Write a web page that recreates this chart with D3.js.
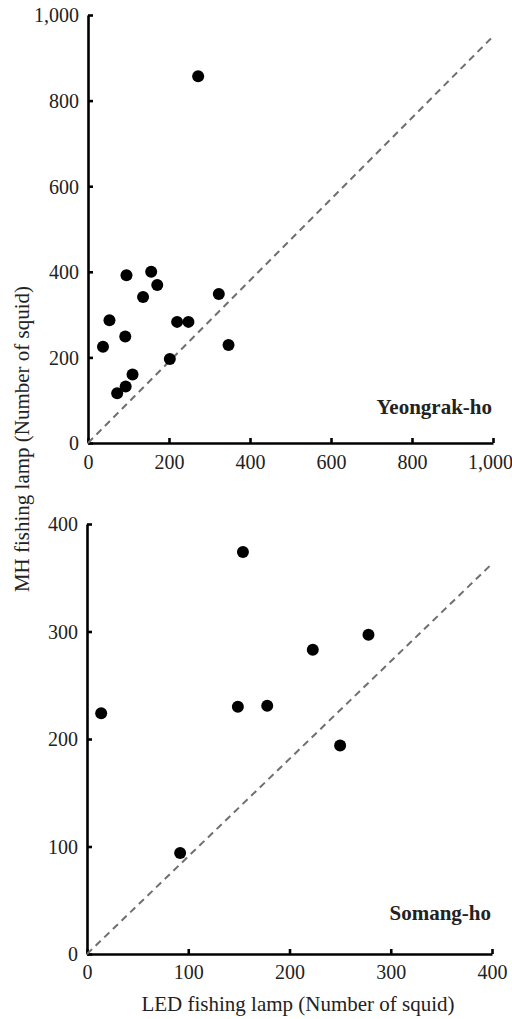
<!DOCTYPE html>
<html><head><meta charset="utf-8">
<script src="https://cdn.jsdelivr.net/npm/d3@7"></script>
<style>
html,body{margin:0;padding:0;background:#fff;}
svg{display:block;}
</style></head>
<body>
<svg id="c" width="512" height="1019"></svg>
<script>
// Yeongrak-ho: LED vs MH catch
const yeongLED = [37, 53, 92, 72, 93, 110, 95, 136, 156, 171, 202, 220, 248, 323, 347, 272];
const yeongMH  = [225, 287, 249, 116, 132, 160, 392, 341, 400, 369, 196, 283, 283, 348, 229, 857];
// Somang-ho
const somLED = [14, 92, 149, 154, 178, 223, 250, 278];
const somMH  = [224, 94, 230, 374, 231, 283, 194, 297];
// reference (dashed) lines endpoints
const yeongRef = [[0,0],[1000,950]];
const somRef = [[0,0],[400,363]];
// tick labels
const yeongTicks = [0, 200, 400, 600, 800, 1000];
const somTicks = [0, 100, 200, 300, 400];
const yLabel = "MH fishing lamp (Number of squid)";
const xLabel = "LED fishing lamp (Number of squid)";
const titles = ["Yeongrak-ho", "Somang-ho"];

const FONT = "Liberation Serif";
const svg = d3.select("#c");

function panel(o){
  const x = d3.scaleLinear().domain(o.domain).range(o.xr);
  const y = d3.scaleLinear().domain(o.domain).range(o.yr);
  const g = svg.append("g");
  const fmt = d3.format(",");
  const ax = g.append("g").attr("transform",`translate(0,${o.yr[0]})`)
    .call(d3.axisBottom(x).tickValues(o.ticks).tickFormat(fmt).tickSizeInner(-5).tickSizeOuter(0).tickPadding(o.xpad));
  const ay = g.append("g").attr("transform",`translate(${o.xr[0]},0)`)
    .call(d3.axisLeft(y).tickValues(o.ticks).tickFormat(fmt).tickSizeInner(-5).tickSizeOuter(0).tickPadding(9));
  [ax,ay].forEach(a=>{
    a.attr("font-family",FONT).attr("font-size",20);
    a.select(".domain").attr("stroke","#000").attr("stroke-width",2.6);
    a.selectAll(".tick line").attr("stroke","#000").attr("stroke-width",2.6);
    a.selectAll(".tick text").attr("font-family",FONT).attr("font-size",20).attr("fill","#222");
  });
  ay.selectAll(".tick text").attr("dy","0.34em");
  ax.selectAll(".tick text").filter(d=>d===o.domain[1] && d>=1000).attr("dx",-3);
  // reference line
  g.append("line")
    .attr("x1",x(o.ref[0][0])).attr("y1",y(o.ref[0][1]))
    .attr("x2",x(o.ref[1][0])).attr("y2",y(o.ref[1][1]))
    .attr("stroke","#6f6f6f").attr("stroke-width",2).attr("stroke-dasharray","7,5");
  g.selectAll("circle").data(o.xs.map((v,i)=>[v,o.ys[i]])).enter().append("circle")
    .attr("cx",d=>x(d[0])).attr("cy",d=>y(d[1])).attr("r",6).attr("fill","#000");
  g.append("text").attr("x",o.xr[1]-1).attr("y",o.titleY).attr("text-anchor","end")
    .attr("font-family",FONT).attr("font-size",21).attr("font-weight","bold").attr("fill","#222").text(o.title);
}

panel({domain:[0,1000], xr:[88,493], yr:[443,15], ticks:yeongTicks, xs:yeongLED, ys:yeongMH,
  ref:yeongRef, title:titles[0], titleY:414, xpad:12});
panel({domain:[0,400], xr:[87,492], yr:[954,524], ticks:somTicks, xs:somLED, ys:somMH,
  ref:somRef, title:titles[1], titleY:920, xpad:11});

svg.append("text").attr("transform","translate(29,439) rotate(-90)").attr("text-anchor","middle")
  .attr("font-family",FONT).attr("font-size",21).attr("fill","#222").text(yLabel);
svg.append("text").attr("x",298).attr("y",1011).attr("text-anchor","middle")
  .attr("font-family",FONT).attr("font-size",21).attr("fill","#222").text(xLabel);
</script>
</body></html>
